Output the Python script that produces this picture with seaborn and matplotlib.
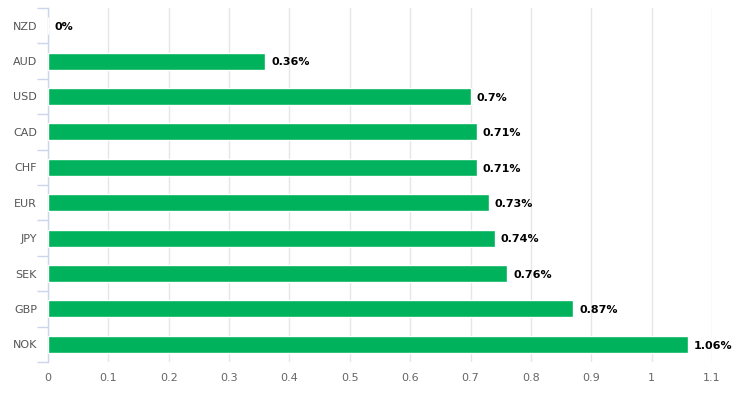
import matplotlib
matplotlib.use("Agg")
import matplotlib.pyplot as plt
from matplotlib.ticker import FixedLocator
import seaborn as sns
import pandas as pd

currencies = ["NZD", "AUD", "USD", "CAD", "CHF", "EUR", "JPY", "SEK", "GBP", "NOK"]
values = [0, 0.36, 0.7, 0.71, 0.71, 0.73, 0.74, 0.76, 0.87, 1.06]
labels = ["0%", "0.36%", "0.7%", "0.71%", "0.71%", "0.73%", "0.74%", "0.76%", "0.87%", "1.06%"]
xticks = [0, 0.1, 0.2, 0.3, 0.4, 0.5, 0.6, 0.7, 0.8, 0.9, 1.0, 1.1]
xticklabels = ["0", "0.1", "0.2", "0.3", "0.4", "0.5", "0.6", "0.7", "0.8", "0.9", "1", "1.1"]

df = pd.DataFrame({"currency": currencies, "value": values})

sns.set_theme(style="white")
plt.rcParams["font.family"] = ["DejaVu Sans"]

fig = plt.figure(figsize=(7.39, 3.99), dpi=100)
ax = fig.add_axes([48/739, 1 - 362/399, (712-48)/739, (362-8)/399])

sns.barplot(data=df, x="value", y="currency", orient="h", color="#00b25c",
            saturation=1, width=0.48, ax=ax, zorder=3)

ax.set_xlim(0, 1.1)
ax.set_ylim(9.5, -0.5)
ax.set_xticks(xticks)
ax.set_xticklabels(xticklabels, fontsize=8, color="#666666")
ax.tick_params(axis="x", length=0, pad=8)
ax.tick_params(axis="y", which="major", left=True, length=0, pad=8, labelsize=8, labelcolor="#555555")
ax.yaxis.set_minor_locator(FixedLocator([i - 0.5 for i in range(11)]))
ax.tick_params(axis="y", which="minor", left=True, length=8, width=1, color="#ccd6eb")
ax.set_xlabel("")
ax.set_ylabel("")
ax.grid(axis="x", color="#e6e6e6", linewidth=1, zorder=0)
for s in ["top", "right", "bottom"]:
    ax.spines[s].set_visible(False)
ax.spines["left"].set_color("#ccd6eb")
ax.spines["left"].set_linewidth(1)

for i, (v, lab) in enumerate(zip(values, labels)):
    ax.annotate(lab, xy=(v, i), xytext=(4.5, -1), textcoords="offset points",
                ha="left", va="center", fontsize=8, fontweight="bold", color="#000000")

fig.savefig("out.png", dpi=100)
